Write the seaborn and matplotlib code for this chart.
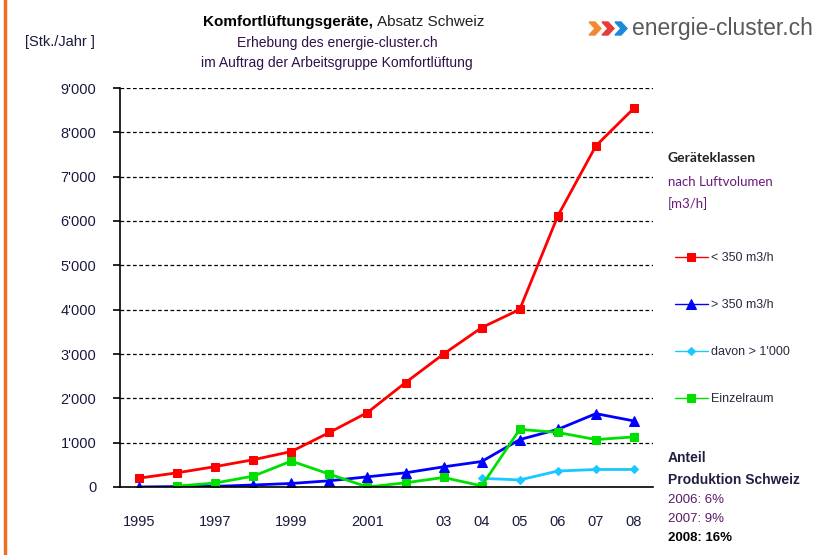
"""
Komfortlüftungsgeräte – Absatz Schweiz (energie-cluster.ch)
"""

import matplotlib
matplotlib.use("Agg")
import matplotlib.pyplot as plt
import matplotlib.patches as mpatches
from matplotlib.lines import Line2D
from matplotlib.ticker import FuncFormatter, FixedLocator
import seaborn as sns
import numpy as np
import pandas as pd

sns.set_style("white")
plt.rcParams['font.family'] = ['Liberation Sans Narrow', 'Liberation Sans', 'DejaVu Sans']

# Data
years = [1995, 1996, 1997, 1998, 1999, 2000, 2001, 2002, 2003, 2004, 2005, 2006, 2007, 2008]
year_labels = ['1995', '', '1997', '', '1999', '', '2001', '', '03', '04', '05', '06', '07', '08']
under_350 = [200, 320, 460, 615, 800, 1230, 1680, 2355, 3000, 3595, 4005, 6115, 7695, 8545]
over_350 = [0, 10, 15, 45, 80, 140, 230, 320, 455, 575, 1070, 1300, 1655, 1490]
davon_1000 = [np.nan] * 9 + [195, 160, 360, 395, 395]
einzelraum = [np.nan, 20, 90, 245, 585, 290, 0, 95, 215, 25, 1300, 1230, 1070, 1130]

series = [
    ('< 350 m3/h', under_350, '#ff0000', 's', 5.5),
    ('> 350 m3/h', over_350, '#0000ff', '^', 6.5),
    ('davon > 1\'000', davon_1000, '#19c8ff', 'D', 4.5),
    ('Einzelraum', einzelraum, '#00e000', 's', 5.5),
]

W, H = 823, 555
fig = plt.figure(figsize=(W / 100, H / 100), dpi=100)
ax = fig.add_axes([120 / W, 1 - 487 / H, (653 - 120) / W, (487 - 88) / H])

pos = np.arange(len(years))
for name, vals, color, marker, ms in series:
    df = pd.DataFrame({'x': pos, 'y': vals}).dropna()
    sns.lineplot(data=df, x='x', y='y', ax=ax, color=color, marker=marker,
                 markersize=ms, markeredgecolor=color, linewidth=2, label=name)

ax.set_xlim(-0.5, len(years) - 0.5)
ax.set_ylim(0, 9000)
ax.set_xlabel('')
ax.set_ylabel('')

# Axes styling
for s in ['top', 'right']:
    ax.spines[s].set_visible(False)
for s in ['left', 'bottom']:
    ax.spines[s].set_color('black')
    ax.spines[s].set_linewidth(1.2)

ax.yaxis.set_major_locator(FixedLocator(np.arange(0, 9001, 1000)))
ax.yaxis.set_major_formatter(FuncFormatter(lambda v, p: f"{int(v):,}".replace(',', "'")))
ax.yaxis.grid(True, linestyle=(0, (3, 2)), color='black', linewidth=0.9)
ax.set_axisbelow(True)

ax.set_xticks(pos)
ax.set_xticklabels(year_labels)
ax.set_xticks(np.arange(-0.5, len(years), 1), minor=True)
ax.tick_params(axis='x', which='major', length=0, pad=20, labelsize=10.5,
               labelcolor='#1a1a40')
ax.tick_params(axis='x', which='minor', direction='out', length=5, width=1.2, color='black')
ax.tick_params(axis='y', direction='out', length=5, width=1.2, color='black',
               pad=12, labelsize=10.5, labelcolor='#1a1a40')
ax.tick_params(left=True, bottom=True)

# Legend
ax.legend(loc='upper left', bbox_to_anchor=(675 / W, 1 - 252 / H),
          bbox_transform=fig.transFigure, frameon=False,
          handlelength=2.6, handletextpad=0.3, labelspacing=2.8,
          borderaxespad=0, borderpad=0,
          prop={'family': ['Liberation Sans', 'DejaVu Sans'], 'size': 9})
for t in ax.get_legend().get_texts():
    t.set_color('#2a2a40')
for h in ax.get_legend().legend_handles:
    h.set_linewidth(1)

# Titles and texts
fig.text(373 / W, 1 - 22 / H, 'Komfortlüftungsgeräte,', ha='right', va='center',
         fontsize=11, fontweight='bold', color='black')
fig.text(377 / W, 1 - 22 / H, 'Absatz Schweiz', ha='left', va='center',
         fontsize=11, color='#202020')
fig.text(337 / W, 1 - 43 / H, 'Erhebung des energie-cluster.ch', ha='center', va='center',
         fontsize=10, color='#30104a')
fig.text(337 / W, 1 - 63 / H, 'im Auftrag der Arbeitsgruppe Komfortlüftung', ha='center',
         va='center', fontsize=10, color='#30104a')
fig.text(25 / W, 1 - 42 / H, '[Stk./Jahr ]', ha='left', va='center',
         fontsize=10.5, color='#1a1a40')

cal = ['Lato', 'DejaVu Sans']
fig.text(668 / W, 1 - 158 / H, 'Geräteklassen', ha='left', va='center', fontsize=10,
         fontweight='bold', color='#202020', family=cal)
fig.text(668 / W, 1 - 182 / H, 'nach Luftvolumen', ha='left', va='center', fontsize=9.5,
         color='#6a1a7a', family=cal)
fig.text(668 / W, 1 - 204 / H, '[m3/h]', ha='left', va='center', fontsize=9.5,
         color='#6a1a7a', family=cal)

fig.text(668 / W, 1 - 458 / H, 'Anteil', ha='left', va='center', fontsize=10,
         fontweight='bold', color='#202040')
fig.text(668 / W, 1 - 480 / H, 'Produktion Schweiz', ha='left', va='center', fontsize=10,
         fontweight='bold', color='#202040')
fig.text(668 / W, 1 - 500 / H, '2006: 6%', ha='left', va='center', fontsize=9.5,
         color='#5a1a6a')
fig.text(668 / W, 1 - 519 / H, '2007: 9%', ha='left', va='center', fontsize=9.5,
         color='#5a1a6a')
fig.text(668 / W, 1 - 538 / H, '2008: 16%', ha='left', va='center', fontsize=9.5,
         fontweight='bold', color='black')

# Logo
fig.text(632 / W, 1 - 28 / H, 'energie-cluster.ch', ha='left', va='center', fontsize=16.5,
         color='#5a5a5a', family=['Liberation Sans', 'DejaVu Sans'])
for i, c in enumerate(['#f08a30', '#e83a3a', '#1a8ad8']):
    x0 = 589 + i * 13
    pts = [(x0, 22), (x0 + 6, 22), (x0 + 12, 28.5), (x0 + 6, 35), (x0, 35), (x0 + 6, 28.5)]
    fig.add_artist(mpatches.Polygon([(x / W, 1 - y / H) for x, y in pts], closed=True,
                                    color=c, transform=fig.transFigure))

# Orange frame line on the left
fig.add_artist(Line2D([5 / W, 5 / W], [0, 1], color='#f07020', linewidth=2.5,
                      transform=fig.transFigure))

fig.savefig('out.png', dpi=100)
